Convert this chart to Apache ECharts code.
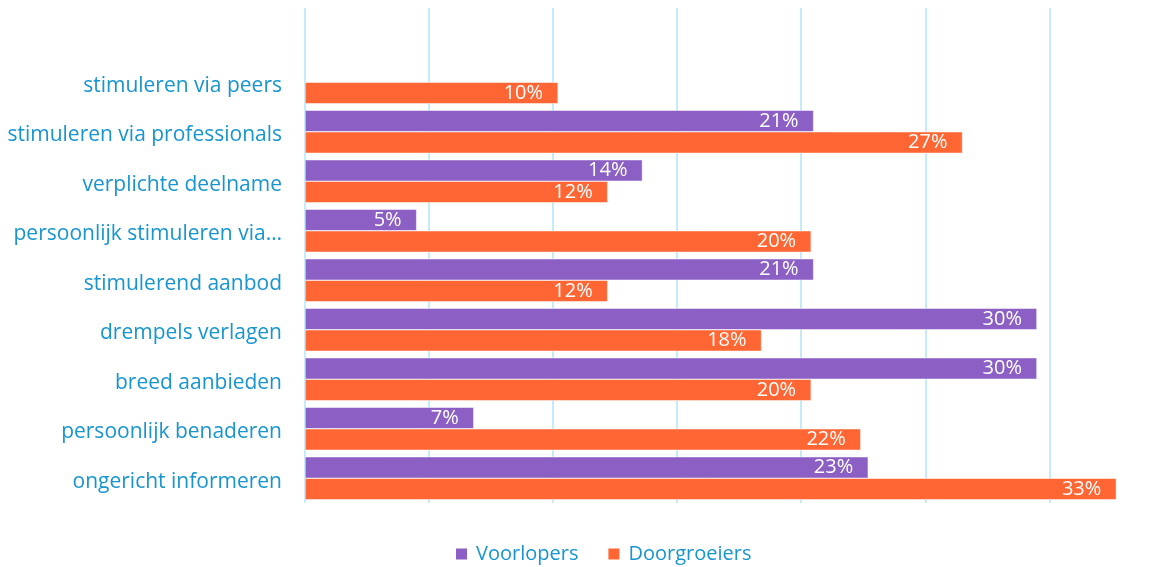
<!DOCTYPE html>
<html>
<head>
<meta charset="utf-8">
<title>Voorlopers vs Doorgroeiers</title>
<script src="https://cdn.jsdelivr.net/npm/echarts@6/dist/echarts.min.js"></script>
<style>
  html, body { margin: 0; padding: 0; background: #ffffff; }
  #chart { width: 1168px; height: 567px; }
</style>
</head>
<body>
<div id="chart"></div>
<script>
// categories top to bottom; the first one is an empty slot at the top of the plot
const categories = [
  '',
  'stimuleren via peers',
  'stimuleren via professionals',
  'verplichte deelname',
  'persoonlijk stimuleren via…',
  'stimulerend aanbod',
  'drempels verlagen',
  'breed aanbieden',
  'persoonlijk benaderen',
  'ongericht informeren'
]
const voorlopers = [null, null, 20.5, 13.6, 4.5, 20.5, 29.5, 29.5, 6.8, 22.7]
const doorgroeiers = [null, 10.2, 26.5, 12.2, 20.4, 12.2, 18.4, 20.4, 22.4, 32.7]

const blueText = '#1795cf'
const gridBlue = '#c4ebfa'
const font = '"Open Sans", Lato, sans-serif'

const barLabel = {
  show: true,
  position: 'insideRight',
  distance: 15,
  color: '#ffffff',
  fontSize: 20,
  fontFamily: font,
  formatter: p => Math.round(p.value) + '%'
}

const chart = echarts.init(document.getElementById('chart'))

chart.setOption({
  backgroundColor: '#ffffff',
  animation: false,
  grid: {
    left: 305,
    right: 7,
    top: 8,
    bottom: 64
  },
  legend: {
    top: 539,
    left: 449,
    icon: 'rect',
    itemWidth: 13,
    itemHeight: 13,
    itemGap: 28,
    textStyle: {
      color: blueText,
      fontSize: 20,
      fontFamily: font,
      padding: [0, 0, 0, 3]
    },
    data: ['Voorlopers', 'Doorgroeiers']
  },
  xAxis: {
    type: 'value',
    min: 0,
    max: 34.5,
    interval: 5,
    axisLabel: { show: false },
    axisLine: { show: false },
    axisTick: { show: false },
    splitLine: {
      show: true,
      showMaxLine: false,
      lineStyle: { color: gridBlue, width: 2 }
    }
  },
  yAxis: {
    type: 'category',
    inverse: true,
    data: categories,
    axisLine: { show: false },
    axisTick: { show: false },
    axisLabel: {
      margin: 23,
      color: blueText,
      fontSize: 21,
      fontFamily: font,
      // nudge the text a few px down, like the original
      formatter: v => v ? '{c|' + v + '}' : '',
      rich: {
        c: {
          color: blueText,
          fontSize: 21,
          fontFamily: font,
          padding: [7, 0, 0, 0]
        }
      }
    }
  },
  series: [
    {
      name: 'Voorlopers',
      type: 'bar',
      data: voorlopers,
      barGap: '0%',
      barCategoryGap: '13%',
      itemStyle: { color: '#8b5fc3', borderColor: '#ffffff', borderWidth: 0.5 },
      label: barLabel
    },
    {
      name: 'Doorgroeiers',
      type: 'bar',
      data: doorgroeiers,
      barGap: '0%',
      barCategoryGap: '13%',
      itemStyle: { color: '#ff6633', borderColor: '#ffffff', borderWidth: 0.5 },
      label: barLabel
    }
  ]
})
</script>
</body>
</html>
